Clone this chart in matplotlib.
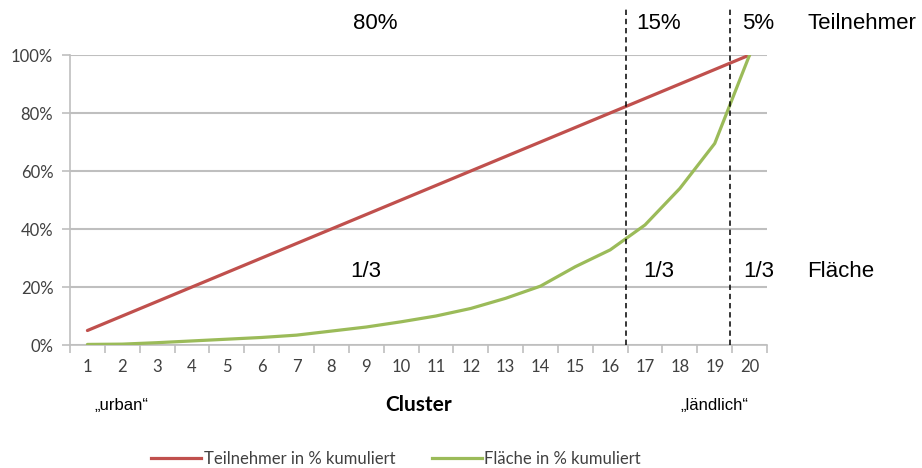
import matplotlib
matplotlib.use("Agg")
import matplotlib.pyplot as plt
from matplotlib.lines import Line2D

clusters = list(range(1, 21))
teilnehmer = [5, 10, 15, 20, 25, 30, 35, 40, 45, 50,
              55, 60, 65, 70, 75, 80, 85, 90, 95, 100]
flaeche = [0.2, 0.3, 0.8, 1.4, 2.0, 2.6, 3.4, 4.8, 6.2, 8.0,
           10.0, 12.6, 16.1, 20.3, 27.0, 32.8, 41.4, 54.0, 69.5, 100]
y_ticks = [0, 20, 40, 60, 80, 100]
y_labels = ["0%", "20%", "40%", "60%", "80%", "100%"]
splits = [16.45, 19.45]
share_top = ["80%", "15%", "5%"]
share_bottom = ["1/3", "1/3", "1/3"]

RED = "#C0504D"
GREEN = "#9BBB59"
GRID = "#BFBFBF"
TICKTXT = "#404040"
ARIAL = "Liberation Sans"
CALIBRI = "Lato"

fig = plt.figure(figsize=(9.22, 4.68), dpi=100)
ax = fig.add_axes([70 / 922, 1 - 345 / 468, 697 / 922, 290 / 468])

ax.plot(clusters, teilnehmer, color=RED, lw=2.3, solid_capstyle="round",
        label="Teilnehmer in % kumuliert", zorder=3)
ax.plot(clusters, flaeche, color=GREEN, lw=2.3, solid_capstyle="round",
        label="Fläche in % kumuliert", zorder=3)

ax.set_xlim(0.5, 20.5)
ax.set_ylim(0, 100)
ax.set_yticks(y_ticks)
ax.set_yticklabels(y_labels)
ax.set_xticks(clusters)
ax.set_xticklabels([str(c) for c in clusters])
ax.set_xticks([c + 0.5 for c in range(0, 21)], minor=True)
ax.tick_params(axis="x", which="major", length=0, pad=10, labelsize=12,
               labelcolor=TICKTXT)
ax.tick_params(axis="x", which="minor", length=6, width=1.2, color=GRID,
               direction="out")
ax.tick_params(axis="y", length=6, width=1.2, color=GRID, pad=6,
               labelsize=12, labelcolor=TICKTXT)
for lab in ax.get_xticklabels() + ax.get_yticklabels():
    lab.set_family(CALIBRI)

ax.grid(axis="y", color=GRID, lw=1.5, zorder=0)
for side in ("top", "right"):
    ax.spines[side].set_visible(False)
for side in ("left", "bottom"):
    ax.spines[side].set_color(GRID)
    ax.spines[side].set_linewidth(1.2)

# dashed separators between cluster groups, running up into the header
for s in splits:
    ax.plot([s, s], [0, 117], color="black", lw=1.1, ls=(0, (3.5, 2.5)),
            clip_on=False, zorder=4)

# header row (participants) and middle row (area)
top_x = [9.25, 17.4, 20.25]
for x, t in zip(top_x, share_top):
    ax.text(x, 111, t, ha="center", va="center", fontsize=16, family=ARIAL)
ax.text(21.65, 111, "Teilnehmer", ha="left", va="center", fontsize=16,
        family=ARIAL)

bot_x = [9.0, 17.4, 20.25]
for x, t in zip(bot_x, share_bottom):
    ax.text(x, 25.5, t, ha="center", va="center", fontsize=16, family=ARIAL)
ax.text(21.65, 25.5, "Fläche", ha="left", va="center", fontsize=16,
        family=ARIAL)

# axis annotations below the ticks
fig.text(121 / 922, 1 - 405 / 468, "„urban“", ha="center", va="center",
         fontsize=12, family=ARIAL)
fig.text(714 / 922, 1 - 405 / 468, "„ländlich“", ha="center", va="center",
         fontsize=12, family=ARIAL)
fig.text(419 / 922, 1 - 405 / 468, "Cluster", ha="center", va="center",
         fontsize=15, family=CALIBRI, fontweight="bold")

handles = [Line2D([], [], color=RED, lw=2.3),
           Line2D([], [], color=GREEN, lw=2.3)]
leg = fig.legend(handles, ["Teilnehmer in % kumuliert", "Fläche in % kumuliert"],
                 loc="center", bbox_to_anchor=(396 / 922, 1 - 459 / 468),
                 ncol=2, frameon=False, handlelength=3.0, handletextpad=0.15,
                 columnspacing=2.2, prop={"family": CALIBRI, "size": 12})
for t in leg.get_texts():
    t.set_color(TICKTXT)

fig.savefig("out.png", dpi=100, facecolor="white")
